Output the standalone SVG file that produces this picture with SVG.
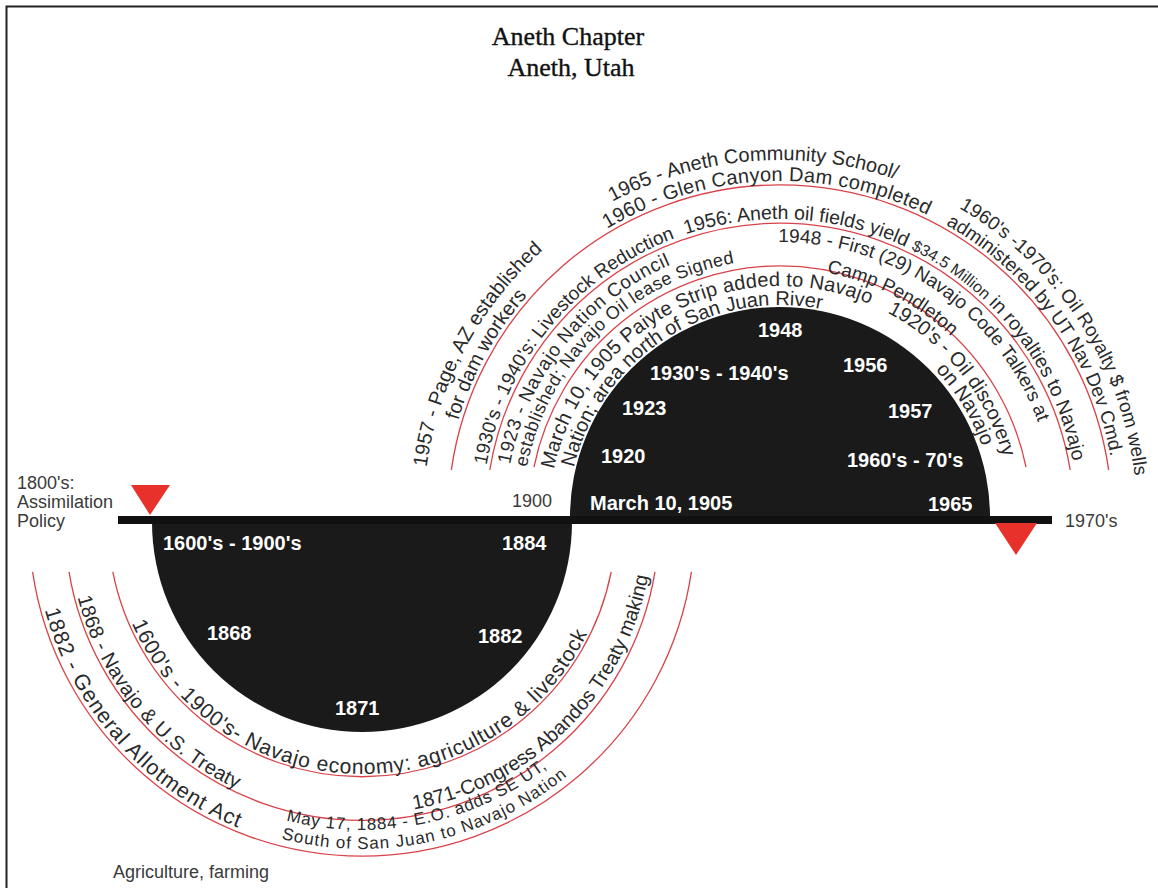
<svg xmlns="http://www.w3.org/2000/svg" xmlns:xlink="http://www.w3.org/1999/xlink" width="1158" height="888" viewBox="0 0 1158 888">
<style>
.arc{fill:none;stroke:#d8434a;stroke-width:1.3}
.ct{font-family:"Liberation Sans",Arial,sans-serif;font-size:20px;fill:#2a2a2a}
.wl{font-family:"Liberation Sans",Arial,sans-serif;font-size:20px;font-weight:bold;fill:#fff}
.pl{font-family:"Liberation Sans",Arial,sans-serif;font-size:18px;fill:#3a3a3a}
.title{font-family:"Liberation Serif","Times New Roman",serif;font-size:26px;fill:#111;stroke:#111;stroke-width:0.35;text-anchor:middle}
.tri{fill:#e8312b}
</style>
<defs>
<path id="pu357" d="M 423 517 A 357 357 0 0 1 1137 517"/>
<path id="pu336" d="M 444 517 A 336 336 0 0 1 1116 517"/>
<path id="pu298" d="M 482 517 A 298 298 0 0 1 1078 517"/>
<path id="pu275" d="M 505 517 A 275 275 0 0 1 1055 517"/>
<path id="pu258" d="M 522 517 A 258 258 0 0 1 1038 517"/>
<path id="pu249" d="M 531 517 A 249 249 0 0 1 1029 517"/>
<path id="pu231" d="M 549 517 A 231 231 0 0 1 1011 517"/>
<path id="pu212" d="M 568 517 A 212 212 0 0 1 992 517"/>
<path id="pu214" d="M 566 517 A 214 214 0 0 1 994 517"/>
<path id="pl251" d="M 111 523 A 251 251 0 0 0 613 523"/>
<path id="pl294" d="M 68 523 A 294 294 0 0 0 656 523"/>
<path id="pl329" d="M 33 523 A 329 329 0 0 0 691 523"/>
<path id="pl291" d="M 71 523 A 291 291 0 0 0 653 523"/>
<path id="pl307" d="M 55 523 A 307 307 0 0 0 669 523"/>
<path id="pl326" d="M 36 523 A 326 326 0 0 0 688 523"/>
</defs>
<rect width="1158" height="888" fill="#fff"/>
<path d="M 6.5 888 V 6.5 H 1158" fill="none" stroke="#222" stroke-width="2"/>
<g id="title">
<text class="title" x="568" y="45">Aneth Chapter</text>
<text class="title" x="571" y="76">Aneth, Utah</text>
</g>
<g id="timeline">
<path d="M 570 517 A 210 210 0 0 1 990 517 Z" fill="#1a1a1a"/>
<path d="M 152 522 A 210 210 0 0 0 572 522 Z" fill="#1a1a1a"/>
<rect x="118" y="516" width="934" height="8" fill="#111"/>
<polygon class="tri" points="131,485 170,485 150,515"/>
<polygon class="tri" points="995,523 1037,523 1016,555"/>
</g>
<g id="connectors">
<path class="arc" d="M 451.3 470.2 A 332 332 0 0 1 1108.7 470.2"/>
<path class="arc" d="M 489.8 470 A 294 294 0 0 1 1070.2 470"/>
<path class="arc" d="M 534 467 A 251 251 0 0 1 1026 467"/>
<path class="arc" d="M 112.8 571.9 A 254 254 0 0 0 611.2 571.9"/>
<path class="arc" d="M 69 571.9 A 297 297 0 0 0 655 571.9"/>
<path class="arc" d="M 32.6 571.9 A 333 333 0 0 0 691.4 571.9"/>
</g>
<g id="upper-labels">
<text class="ct"><textPath xlink:href="#pu357" startOffset="50">1957 - Page, AZ established</textPath></text>
<text class="ct"><textPath xlink:href="#pu336" startOffset="98">for dam workers</textPath></text>
<text class="ct"><textPath xlink:href="#pu357" startOffset="386">1965 - Aneth Community School/</textPath></text>
<text class="ct" style="letter-spacing:0.3px"><textPath xlink:href="#pu336" startOffset="346">1960 - Glen Canyon Dam completed</textPath></text>
<text class="ct" style="font-size:19px"><textPath xlink:href="#pu357" startOffset="748">1960's -1970's: Oil Royalty $ from wells</textPath></text>
<text class="ct" style="font-size:19px"><textPath xlink:href="#pu336" startOffset="701">administered by UT Nav Dev Cmd.</textPath></text>
<text class="ct" style="font-size:19px"><textPath xlink:href="#pu298" startOffset="52">1930's - 1940's: Livestock Reduction</textPath></text>
<text class="ct" style="font-size:19.5px"><textPath xlink:href="#pu298" startOffset="372">1956: Aneth oil fields yield <tspan style="font-size:16px">$34.5 Million</tspan> in royalties to Navajo</textPath></text>
<text class="ct" style="font-size:19px;letter-spacing:0.7px"><textPath xlink:href="#pu275" startOffset="53">1923 - Navajo Nation Council</textPath></text>
<text class="ct" style="font-size:18px;letter-spacing:0.45px"><textPath xlink:href="#pu258" startOffset="50">established; Navajo Oil lease Signed</textPath></text>
<text class="ct" style="font-size:19px"><textPath xlink:href="#pu275" startOffset="430">1948 - First (29) Navajo Code Talkers at</textPath></text>
<text class="ct" style="font-size:19px"><textPath xlink:href="#pu249" startOffset="438">Camp Pendleton</textPath></text>
<text class="ct" style="letter-spacing:0.2px"><textPath xlink:href="#pu231" startOffset="48">March 10, 1905 Paiyte Strip added to Navajo</textPath></text>
<text class="ct"><textPath xlink:href="#pu212" startOffset="50">Nation; area north of San Juan River</textPath></text>
<text class="ct"><textPath xlink:href="#pu231" startOffset="474">1920's - Oil discovery</textPath></text>
<text class="ct"><textPath xlink:href="#pu214" startOffset="510">on Navajo</textPath></text>
</g>
<g id="lower-labels">
<text class="ct" style="font-size:21px;letter-spacing:0.8px"><textPath xlink:href="#pl251" startOffset="103">1600's - 1900's- Navajo economy: agriculture &amp; livestock</textPath></text>
<text class="ct" style="letter-spacing:0.3px"><textPath xlink:href="#pl294" startOffset="75">1868 - Navajo &amp; U.S. Treaty</textPath></text>
<text class="ct" style="font-size:21.5px;letter-spacing:1px"><textPath xlink:href="#pl329" startOffset="88">1882 - General Allotment Act</textPath></text>
<text class="ct"><textPath xlink:href="#pl291" startOffset="509">1871-Congress Abandos Treaty making</textPath></text>
<text class="ct" style="font-size:17px;letter-spacing:0.8px"><textPath xlink:href="#pl307" startOffset="405">May 17, 1884 - E.O. adds SE UT,</textPath></text>
<text class="ct" style="font-size:17px;letter-spacing:1px"><textPath xlink:href="#pl326" startOffset="430">South of San Juan to Navajo Nation</textPath></text>
</g>
<g id="disc-labels">
<text class="wl" x="758" y="337">1948</text>
<text class="wl" x="650" y="380">1930's - 1940's</text>
<text class="wl" x="843" y="372">1956</text>
<text class="wl" x="622" y="415">1923</text>
<text class="wl" x="888" y="418">1957</text>
<text class="wl" x="601" y="463">1920</text>
<text class="wl" x="847" y="467">1960's - 70's</text>
<text class="wl" x="590" y="510">March 10, 1905</text>
<text class="wl" x="928" y="511">1965</text>
<text class="wl" x="163" y="550">1600's - 1900's</text>
<text class="wl" x="502" y="550">1884</text>
<text class="wl" x="207" y="640">1868</text>
<text class="wl" x="478" y="643">1882</text>
<text class="wl" x="335" y="715">1871</text>
</g>
<g id="side-labels">
<text class="pl" x="17" y="489">1800's:</text>
<text class="pl" x="17" y="508">Assimilation</text>
<text class="pl" x="17" y="527">Policy</text>
<text class="pl" x="512" y="507">1900</text>
<text class="pl" x="1065" y="527">1970's</text>
<text class="pl" x="113" y="878">Agriculture, farming</text>
</g>
</svg>
